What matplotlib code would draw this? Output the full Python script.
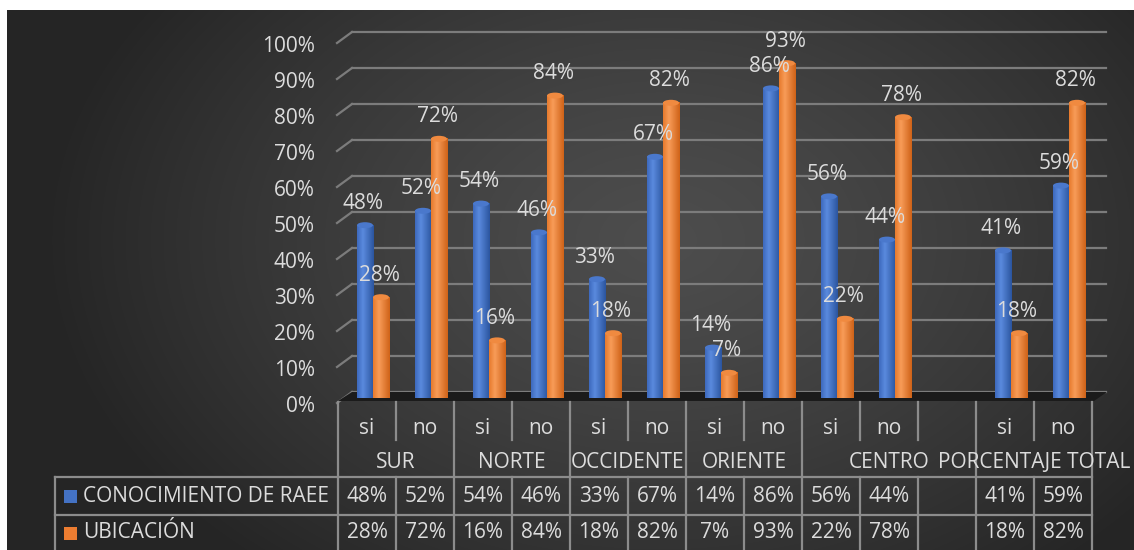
import numpy as np
import matplotlib.pyplot as plt
from matplotlib.transforms import ScaledTranslation, blended_transform_factory
from matplotlib.patches import Ellipse, Polygon, Rectangle
from matplotlib.lines import Line2D

plt.rcParams['font.family'] = ['Open Sans', 'DejaVu Sans']

# data
categories = ["si", "no", "si", "no", "si", "no", "si", "no", "si", "no", "", "si", "no"]
groups = ["SUR", "NORTE", "OCCIDENTE", "ORIENTE", "CENTRO", "PORCENTAJE TOTAL"]
group_spans = [(0, 1), (2, 3), (4, 5), (6, 7), (8, 10), (11, 12)]
conocimiento = [48, 52, 54, 46, 33, 67, 14, 86, 56, 44, np.nan, 41, 59]
ubicacion = [28, 72, 16, 84, 18, 82, 7, 93, 22, 78, np.nan, 18, 82]
series_names = ["CONOCIMIENTO DE RAEE", "UBICACIÓN"]
ticks = list(range(0, 101, 10))

W, H = 1134, 550
txt = '#dcdcdc'
grid_c = '#7c7c7c'
fs = 15

fig = plt.figure(figsize=(W / 100, H / 100), dpi=100, facecolor='white')

# dark radial background
bg = fig.add_axes([0, 0, 1, 1], zorder=-10)
yy, xx = np.mgrid[10:H, 7:W]
r = np.clip(np.sqrt(((xx - 660) / 620) ** 2 + ((yy - 240) / 430) ** 2), 0, 1)
inner, outer = 0x4d / 255, 0x25 / 255
shade = inner + (outer - inner) * r ** 1.3
bg.imshow(np.dstack([shade] * 3), extent=[7, W, H, 10], aspect='auto', interpolation='bilinear')
bg.set_xlim(0, W)
bg.set_ylim(H, 0)
bg.axis('off')

ax = fig.add_axes([344 / W, 152 / H, 754 / W, 360 / H])
ax.axis('off')


def shift(dx, dy):
    return ScaledTranslation(dx / 100, -dy / 100, fig.dpi_scale_trans)


def fpt(x, y, dx=0, dy=0):
    p = ax.transData.transform((x, y))
    return fig.transFigure.inverted().transform((p[0] + dx, p[1] - dy))


ax.set_xlim(-0.5, 12.5)
ax.set_ylim(0, 100)

# back wall gridlines with the 3D side step
for v in ticks:
    ax.plot([-0.5, 12.5], [v, v], transform=ax.transData + shift(8, -6),
            color=grid_c, lw=1.6, clip_on=False, zorder=1)
    a = fpt(-0.5, v, -7, 5)
    b = fpt(-0.5, v, 8, -6)
    ax.add_line(Line2D([a[0], b[0]], [a[1], b[1]], transform=fig.transFigure,
                       color=grid_c, lw=1.6, clip_on=False, zorder=1))
    ax.text(-0.5, v, f"{v}%", transform=ax.transData + shift(-29, 8),
            ha='right', va='center', color=txt, fontsize=fs, clip_on=False)

# floor
floor = [fpt(-0.5, 0, -6, 3), fpt(12.5, 0, -4, 3), fpt(12.5, 0, 9, -6), fpt(-0.5, 0, 8, -6)]
ax.add_patch(Polygon(floor, closed=True, transform=fig.transFigure,
                     facecolor='#1b1b1b', edgecolor='none', zorder=2, clip_on=False))


def hexrgb(h):
    h = h.lstrip('#')
    return [int(h[i:i + 2], 16) / 255 for i in (0, 2, 4)]


def cylinder(xc, v, w, shades, cap):
    t = np.linspace(0, 1, 64)
    stops = [0, 0.35, 1]
    cols = [hexrgb(c) for c in shades]
    arr = np.stack([np.interp(t, stops, [c[k] for c in cols]) for k in range(3)], axis=-1)[None, :, :]
    eh = 6 / 3.6
    ax.add_patch(Ellipse((xc, 0), w, eh, facecolor=shades[2], edgecolor='none', zorder=3.9))
    ax.imshow(arr, extent=[xc - w / 2, xc + w / 2, 0, v], aspect='auto',
              interpolation='bilinear', zorder=4)
    ax.add_patch(Ellipse((xc, v), w, eh, facecolor=cap, edgecolor='none', zorder=4.1))


w = 0.276
blue_shades = ['#3d69bd', '#5a8ade', '#2b559f']
orange_shades = ['#e77a2c', '#f89c58', '#cf6218']
for i in range(len(categories)):
    for vals, off, sh, cap in [(conocimiento, -0.138, blue_shades, '#4a78cc'),
                               (ubicacion, 0.138, orange_shades, '#f08a40')]:
        v = vals[i]
        if np.isnan(v):
            continue
        cylinder(i + off, v, w, sh, cap)
        ax.text(i + off, v, f"{v:.0f}%", transform=ax.transData + shift(-2, -22),
                ha='center', va='center', color=txt, fontsize=fs, zorder=6, clip_on=False)

ax.set_xlim(-0.5, 12.5)
ax.set_ylim(0, 100)


# data table under the plot
def ty(ypx):
    return 1 - ypx / H


ttr = blended_transform_factory(ax.transData + shift(-6, 0), fig.transFigure)
line_c = '#8c8c8c'
group_bounds = {0, 2, 4, 6, 8, 11, 13}
for bnd in range(14):
    x = bnd - 0.5
    if bnd in group_bounds:
        segs = [(402, 550)]
    else:
        segs = [(402, 440), (477, 550)]
    for y0, y1 in segs:
        ax.add_line(Line2D([x, x], [ty(y0), ty(y1)], transform=ttr, color=line_c,
                           lw=1.6, clip_on=False, zorder=2))

x_right = fpt(12.5, 0, -6, 0)[0]
for ypx in (477, 515):
    ax.add_line(Line2D([55 / W, x_right], [ty(ypx), ty(ypx)], transform=fig.transFigure,
                       color=line_c, lw=1.6, clip_on=False, zorder=2))
ax.add_line(Line2D([55 / W, 55 / W], [ty(477), ty(550)], transform=fig.transFigure,
                   color=line_c, lw=1.6, clip_on=False, zorder=2))

for i, c in enumerate(categories):
    ax.text(i, ty(428), c, transform=ttr, ha='center', va='center', color=txt, fontsize=fs)
for g, (s, e) in zip(groups, group_spans):
    ax.text((s + e) / 2, ty(463), g, transform=ttr, ha='center', va='center',
            color=txt, fontsize=fs, zorder=5)

for row_y, vals, col, name in [(496, conocimiento, '#4472c4', series_names[0]),
                               (533, ubicacion, '#ed7d31', series_names[1])]:
    for i, v in enumerate(vals):
        if not np.isnan(v):
            ax.text(i, ty(row_y), f"{v:.0f}%", transform=ttr, ha='center', va='center',
                    color=txt, fontsize=fs)
    ax.add_patch(Rectangle((64 / W, ty(row_y + 7)), 13 / W, 13 / H, transform=fig.transFigure,
                           facecolor=col, edgecolor='none', clip_on=False))
    ax.text(83 / W, ty(row_y), name, transform=fig.transFigure, ha='left', va='center',
            color=txt, fontsize=fs)

fig.savefig('out.png', dpi=100, facecolor=fig.get_facecolor())
